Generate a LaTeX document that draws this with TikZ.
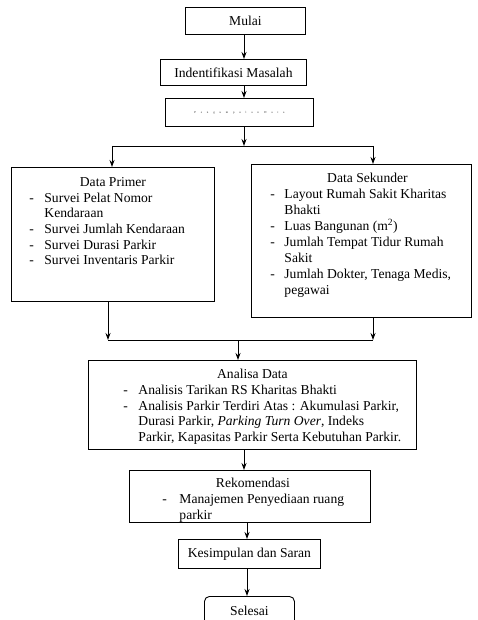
\documentclass[tikz,border=0pt]{standalone}
\usepackage{fontspec}
\setmainfont{Liberation Serif}
\usetikzlibrary{arrows.meta}
\newcommand{\dashitem}[3]{\par\noindent\hangindent=\dimexpr#1+#2\relax\hangafter=1 \hspace*{#1}\makebox[#2][l]{-}#3}
\begin{document}
\begin{tikzpicture}[x=1pt,y=-1pt,
  box/.style={draw,line width=0.9pt,inner sep=0pt,anchor=north west},
  arr/.style={line width=0.9pt,-{Stealth[length=7pt,width=5pt]}},
  ln/.style={line width=0.9pt},
  every node/.style={font=\fontsize{13.6}{15.7}\selectfont}]
\useasboundingbox[fill=white] (0,0) rectangle (478,620);
% top chain
\node[box,minimum width=120pt,minimum height=27pt] (mulai) at (185,7) {Mulai};
\node[box,minimum width=146pt,minimum height=26pt] (indent) at (160,59) {Indentifikasi Masalah};
\node[box,minimum width=148pt,minimum height=28pt] (kumpul) at (165,98)
  {\fontsize{3}{4}\selectfont\addfontfeature{LetterSpace=160}\color{black!85}Pengumpulan Data};
\coordinate (split) at (244,146);
\coordinate (splitL) at (112,146);
\coordinate (splitR) at (373,146);
% data primer
\node[box] (primer) at (11,167) {\parbox[t][134pt][t]{203pt}{\vspace*{10pt}%
  \centering Data Primer\par\raggedright
  \dashitem{18pt}{15pt}{Survei Pelat Nomor\newline Kendaraan}
  \dashitem{18pt}{15pt}{Survei Jumlah Kendaraan}
  \dashitem{18pt}{15pt}{Survei Durasi Parkir}
  \dashitem{18pt}{15pt}{Survei Inventaris Parkir}\par}};
% data sekunder
\node[box] (sekunder) at (251,164) {\parbox[t][153pt][t]{220pt}{\vspace*{9pt}%
  \fontsize{13.6}{16}\selectfont
  \centering\hspace*{12pt}Data Sekunder\par\raggedright
  \dashitem{19pt}{14pt}{Layout Rumah Sakit Kharitas\newline Bhakti}
  \dashitem{19pt}{14pt}{Luas Bangunan (m\textsuperscript{2})}
  \dashitem{19pt}{14pt}{Jumlah Tempat Tidur Rumah\newline Sakit}
  \dashitem{19pt}{14pt}{Jumlah Dokter, Tenaga Medis,\newline pegawai}\par}};
\coordinate (joinL) at (108,340);
\coordinate (joinR) at (373,340);
\coordinate (joinM) at (238,340);
% analisa
\node[box] (analisa) at (88,360) {\parbox[t][89pt][t]{328pt}{\vspace*{9pt}%
  \centering\hspace*{0pt}Analisa Data\par\raggedright
  \dashitem{35pt}{15pt}{Analisis Tarikan RS Kharitas Bhakti}
  \dashitem{35pt}{15pt}{Analisis Parkir Terdiri Atas : Akumulasi Parkir,\newline Durasi Parkir, \textit{Parking Turn Over}, Indeks\newline Parkir, Kapasitas Parkir Serta Kebutuhan Parkir.}\par}};
% rekomendasi
\node[box] (rekom) at (129,470) {\parbox[t][52pt][t]{241pt}{\vspace*{8pt}%
  \centering\hspace*{6pt}Rekomendasi\par\raggedright
  \dashitem{33pt}{17pt}{Manajemen Penyediaan ruang\newline parkir}\par}};
\node[box,minimum width=142pt,minimum height=29pt] (simpul) at (178,539) {Kesimpulan dan Saran};
\node[box,rounded corners=5pt,minimum width=90pt,minimum height=36pt] (selesai) at (204,596) {\raisebox{7pt}{Selesai}};
% connectors
\draw[arr] (mulai.south -| split) -- (indent.north -| split);
\draw[arr] (indent.south -| split) -- (kumpul.north -| split);
\draw[arr] (kumpul.south -| split) -- (split);
\draw[ln] (splitL) -- (splitR);
\draw[arr] (splitL) -- (primer.north -| splitL);
\draw[arr] (splitR) -- (sekunder.north -| splitR);
\draw[arr] (primer.south -| joinL) -- (joinL);
\draw[arr] (sekunder.south -| joinR) -- (joinR);
\draw[ln] (joinL) -- (joinR);
\draw[arr] (joinM) -- (analisa.north -| joinM);
\coordinate (mid2) at (244,0);
\coordinate (mid3) at (247,0);
\draw[arr] (analisa.south -| mid2) -- (rekom.north -| mid2);
\draw[arr] (rekom.south -| mid3) -- (simpul.north -| mid3);
\draw[arr] (simpul.south -| mid3) -- (selesai.north -| mid3);
\end{tikzpicture}
\end{document}
